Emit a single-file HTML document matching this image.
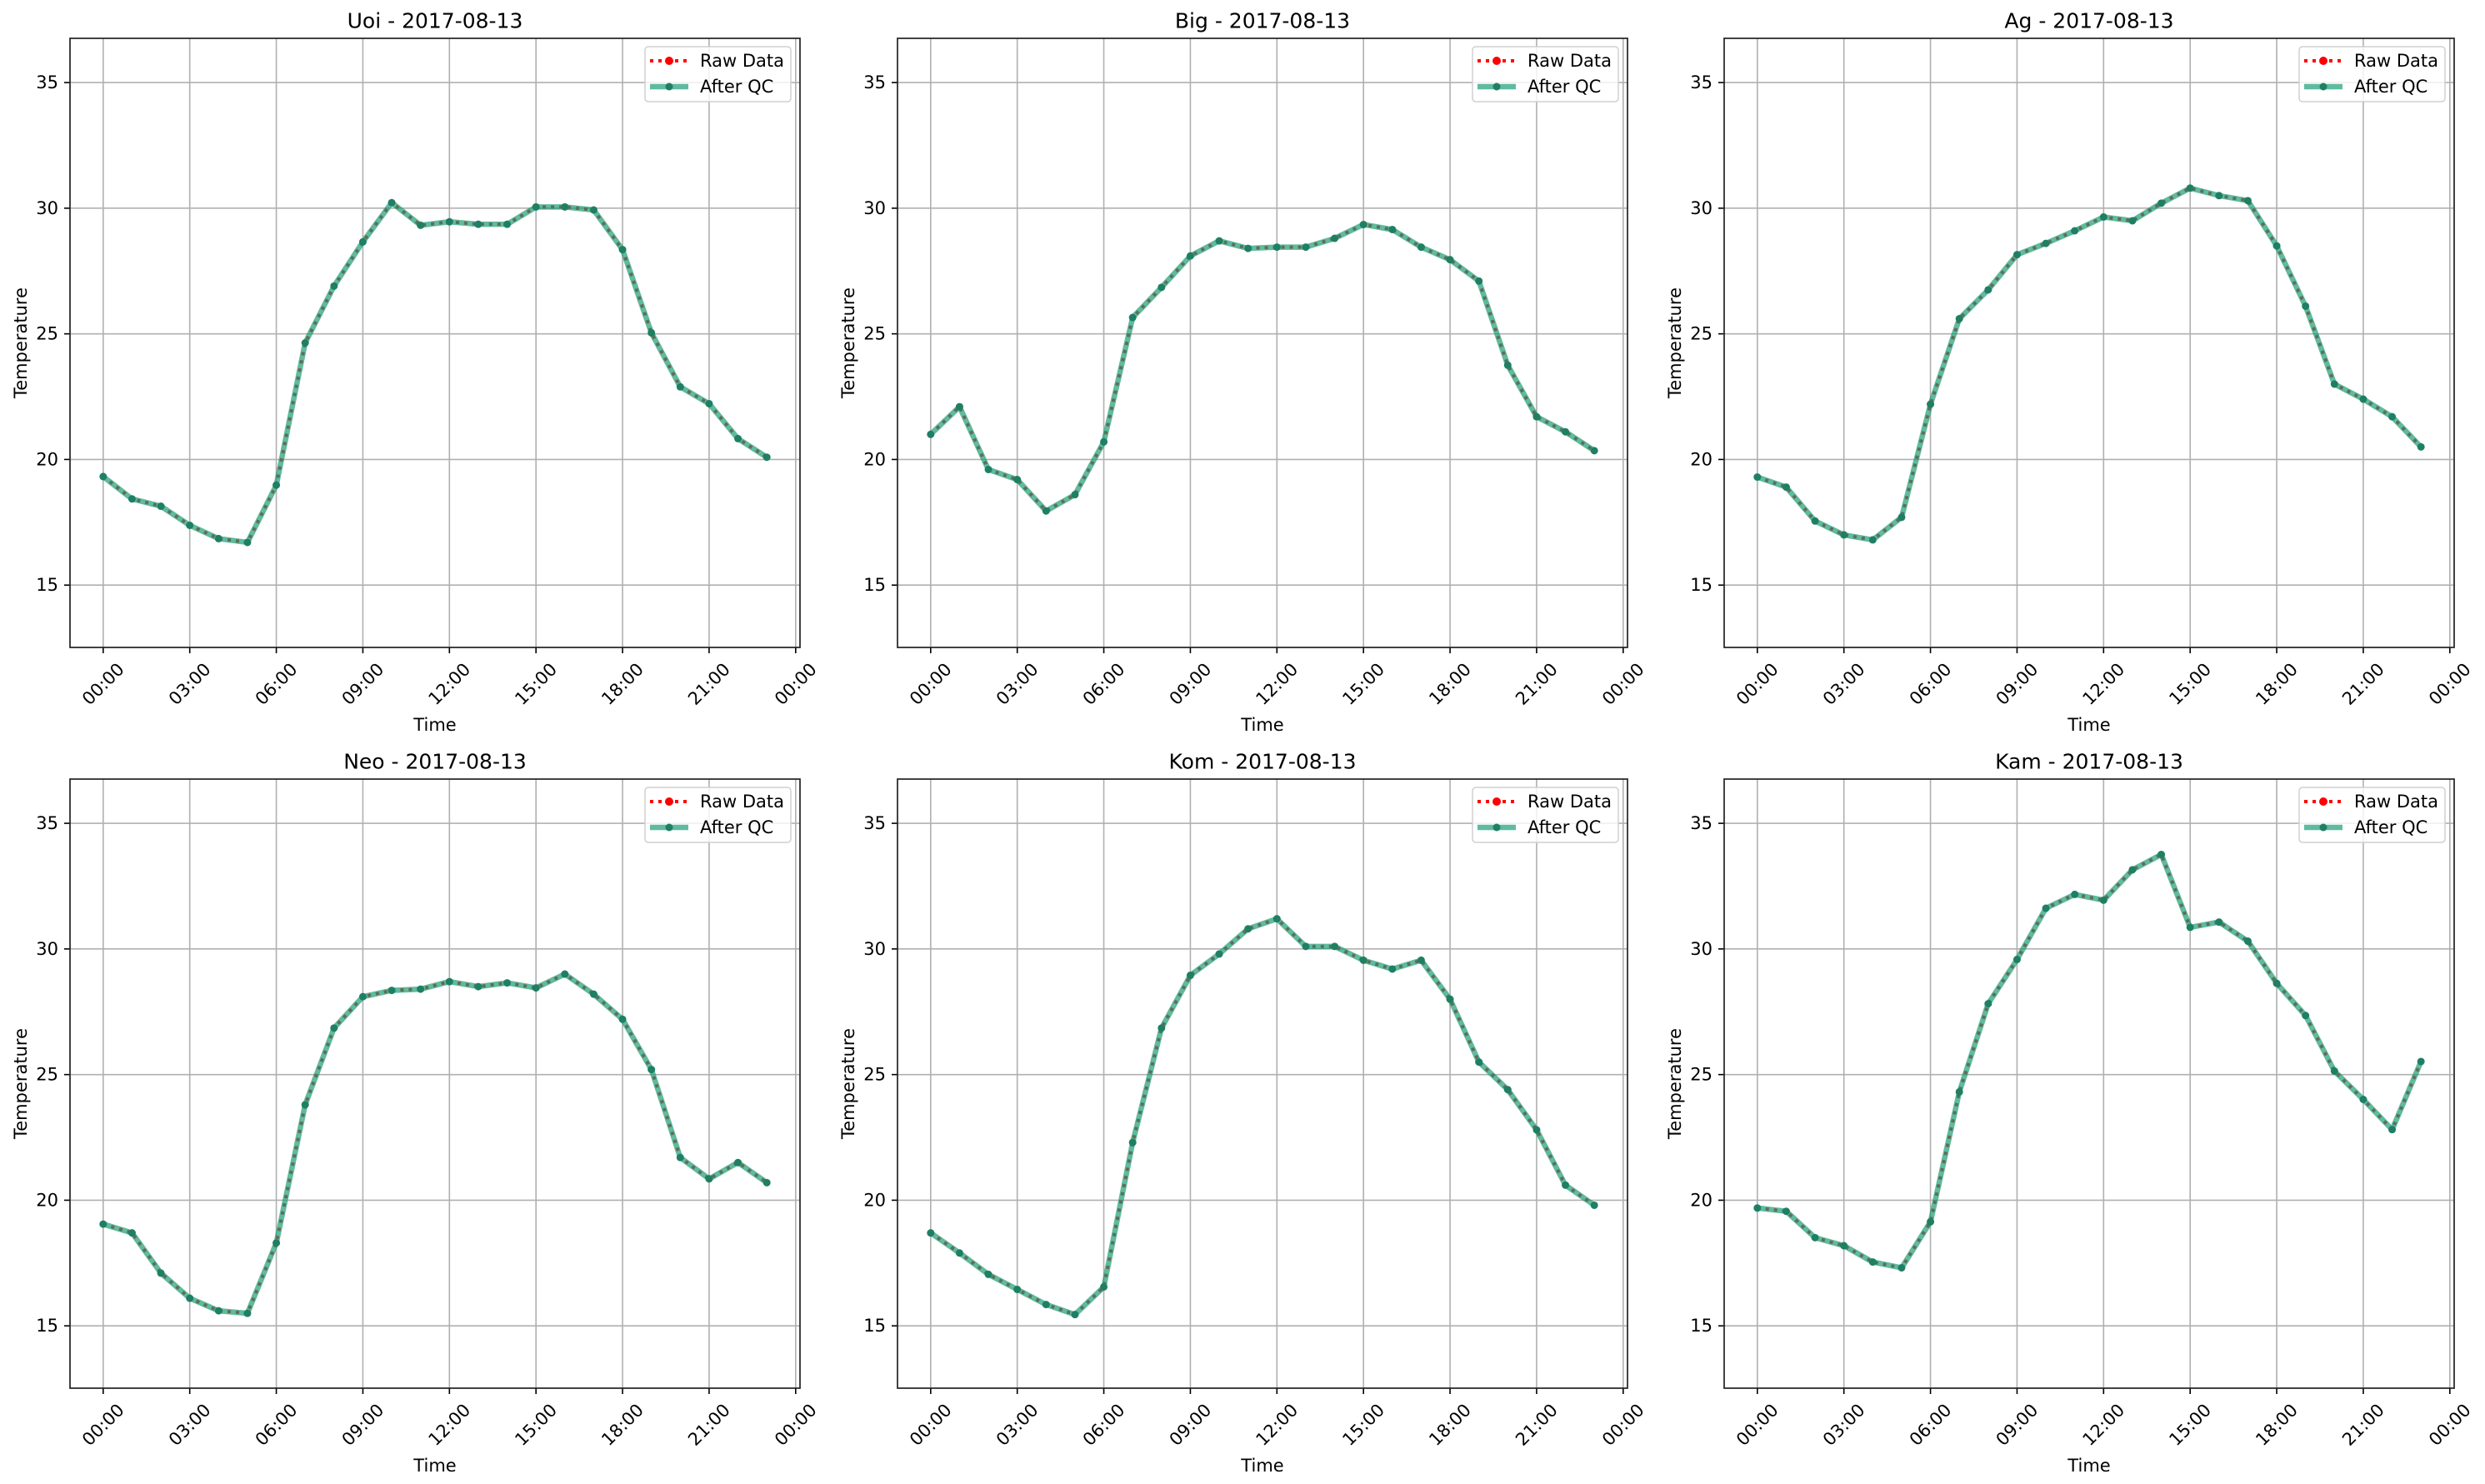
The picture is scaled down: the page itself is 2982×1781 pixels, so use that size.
<!DOCTYPE html>
<html><head><meta charset="utf-8"><style>
html,body{margin:0;padding:0;background:#fff;}
svg{display:block;font-family:"DejaVu Sans","Liberation Sans",sans-serif;}
</style></head><body>
<svg id="fig" width="2982" height="1781" viewBox="0 0 2982 1781" xmlns="http://www.w3.org/2000/svg"></svg>
<script>
const stations = ["Uoi","Big","Ag","Neo","Kom","Kam"];
const dateLabel = "2017-08-13";
const hours = [0,1,2,3,4,5,6,7,8,9,10,11,12,13,14,15,16,17,18,19,20,21,22,23];
const uoiTemps = [19.32,18.43,18.14,17.38,16.85,16.70,18.98,24.64,26.9,28.66,30.22,29.32,29.46,29.36,29.36,30.05,30.05,29.93,28.35,25.04,22.89,22.22,20.83,20.09];
const bigTemps = [21.0,22.1,19.6,19.2,17.95,18.6,20.7,25.65,26.85,28.1,28.7,28.4,28.45,28.45,28.8,29.35,29.15,28.45,27.95,27.1,23.75,21.7,21.1,20.35];
const agTemps = [19.3,18.9,17.55,17.0,16.8,17.7,22.2,25.6,26.75,28.15,28.6,29.1,29.65,29.5,30.2,30.8,30.5,30.3,28.5,26.1,23.0,22.4,21.7,20.5];
const neoTemps = [19.05,18.7,17.1,16.1,15.6,15.5,18.3,23.8,26.85,28.1,28.35,28.4,28.7,28.5,28.65,28.45,29.0,28.2,27.2,25.2,21.7,20.85,21.5,20.7];
const komTemps = [18.7,17.9,17.05,16.45,15.85,15.45,16.55,22.3,26.85,28.95,29.8,30.8,31.2,30.1,30.1,29.55,29.2,29.55,28.0,25.5,24.4,22.8,20.6,19.8];
const kamTemps = [19.69,19.56,18.51,18.19,17.54,17.31,19.14,24.31,27.82,29.58,31.62,32.17,31.94,33.15,33.76,30.86,31.07,30.31,28.63,27.35,25.14,24.01,22.81,25.52];
const xTickHours = [0,3,6,9,12,15,18,21,24];
const xTickLabels = ["00:00","03:00","06:00","09:00","12:00","15:00","18:00","21:00","00:00"];
const yTicks = [15,20,25,30,35];

const allSeries = [uoiTemps,bigTemps,agTemps,neoTemps,komTemps,kamTemps];
const NS = "http://www.w3.org/2000/svg";
const svg = document.getElementById("fig");
function mk(tag, attrs, parent){const e=document.createElementNS(NS,tag);for(const k in attrs)e.setAttribute(k,attrs[k]);(parent||svg).appendChild(e);return e;}

const colLeft=[84,1077,2069], rowTop=[46,935], W=876, H=731;
const xmin=-1.15,xmax=24.15,ymin=12.52,ymax=36.76;
const QC="#1b9e77", QCM="#1f7f64";

stations.forEach((name,i)=>{
  const r=Math.floor(i/3), c=i%3;
  const L=colLeft[c], T=rowTop[r];
  const sx=h=>L+(h-xmin)/(xmax-xmin)*W;
  const sy=v=>T+H-(v-ymin)/(ymax-ymin)*H;
  const g=mk("g",{});
  
  
  xTickHours.forEach((h,k)=>{
    const x=sx(h);
    if(x<=L+W){const gl=mk("line",{x1:x,x2:x,y1:T,y2:T+H,stroke:"#b0b0b0","stroke-width":1.6},g);
      }
    const tk=mk("line",{x1:x,x2:x,y1:T+H,y2:T+H+7,stroke:"#000","stroke-width":1.6},g);
    
    const t=mk("text",{x:0,y:0,"font-size":21,"text-anchor":"middle","dominant-baseline":"central",transform:`translate(${x},${T+H+44}) rotate(-45)`},g);
    t.textContent=xTickLabels[k];
    
  });
  yTicks.forEach(v=>{
    const y=sy(v);
    const gl=mk("line",{x1:L,x2:L+W,y1:y,y2:y,stroke:"#b0b0b0","stroke-width":1.6},g);
    
    const tk=mk("line",{x1:L-7,x2:L,y1:y,y2:y,stroke:"#000","stroke-width":1.6},g);
    
    const t=mk("text",{x:L-14,y:y,"font-size":21,"text-anchor":"end","dominant-baseline":"central"},g);
    t.textContent=v;
    
  });
  const data=allSeries[i];
  const pts=hours.map((h,k)=>sx(h)+","+sy(data[k])).join(" ");
  const raw=mk("polyline",{points:pts,fill:"none",stroke:"#ff0000","stroke-width":4,"stroke-dasharray":"4,6"},g);
  
  hours.forEach((h,k)=>{const m=mk("circle",{cx:sx(h),cy:sy(data[k]),r:4,fill:"#ff0000"},g);
    });
  const qc=mk("polyline",{points:pts,fill:"none",stroke:QC,"stroke-opacity":0.7,"stroke-width":6.5,"stroke-linejoin":"round"},g);
  
  hours.forEach((h,k)=>{const m=mk("circle",{cx:sx(h),cy:sy(data[k]),r:4.5,fill:QCM},g);
    });
  const fr=mk("rect",{x:L,y:T,width:W,height:H,fill:"none",stroke:"#222","stroke-width":1.7},g);
  
  const tt=mk("text",{x:L+W/2,y:T-21,"font-size":25,"text-anchor":"middle","dominant-baseline":"central"},g);
  tt.textContent=name+" - "+dateLabel;
  
  const xl=mk("text",{x:L+W/2,y:T+H+93,"font-size":21,"text-anchor":"middle","dominant-baseline":"central"},g);
  xl.textContent="Time";
  
  const yl=mk("text",{x:0,y:0,"font-size":21,"text-anchor":"middle","dominant-baseline":"central",transform:`translate(${L-59},${T+H/2}) rotate(-90)`},g);
  yl.textContent="Temperature";
  
  const lg=mk("g",{},g);
  
  const lx=L+W-186, ly=T+10;
  mk("rect",{x:lx,y:ly,width:175,height:66,rx:4,fill:"#fff","fill-opacity":0.8,stroke:"#d0d0d0","stroke-width":1.5},lg);
  const rl=mk("line",{x1:lx+6,x2:lx+52,y1:ly+17,y2:ly+17,stroke:"#ff0000","stroke-width":4,"stroke-dasharray":"4,6"},lg);
  
  mk("circle",{cx:lx+29,cy:ly+17,r:5,fill:"#ff0000"},lg);
  const t1=mk("text",{x:lx+66,y:ly+17,"font-size":21,"dominant-baseline":"central"},lg);
  t1.textContent="Raw Data";
  
  const ql=mk("line",{x1:lx+6,x2:lx+52,y1:ly+48,y2:ly+48,stroke:QC,"stroke-opacity":0.7,"stroke-width":6.5},lg);
  
  mk("circle",{cx:lx+29,cy:ly+48,r:4.5,fill:QCM},lg);
  const t2=mk("text",{x:lx+66,y:ly+48,"font-size":21,"dominant-baseline":"central"},lg);
  t2.textContent="After QC";
  
});
</script>
</body></html>
